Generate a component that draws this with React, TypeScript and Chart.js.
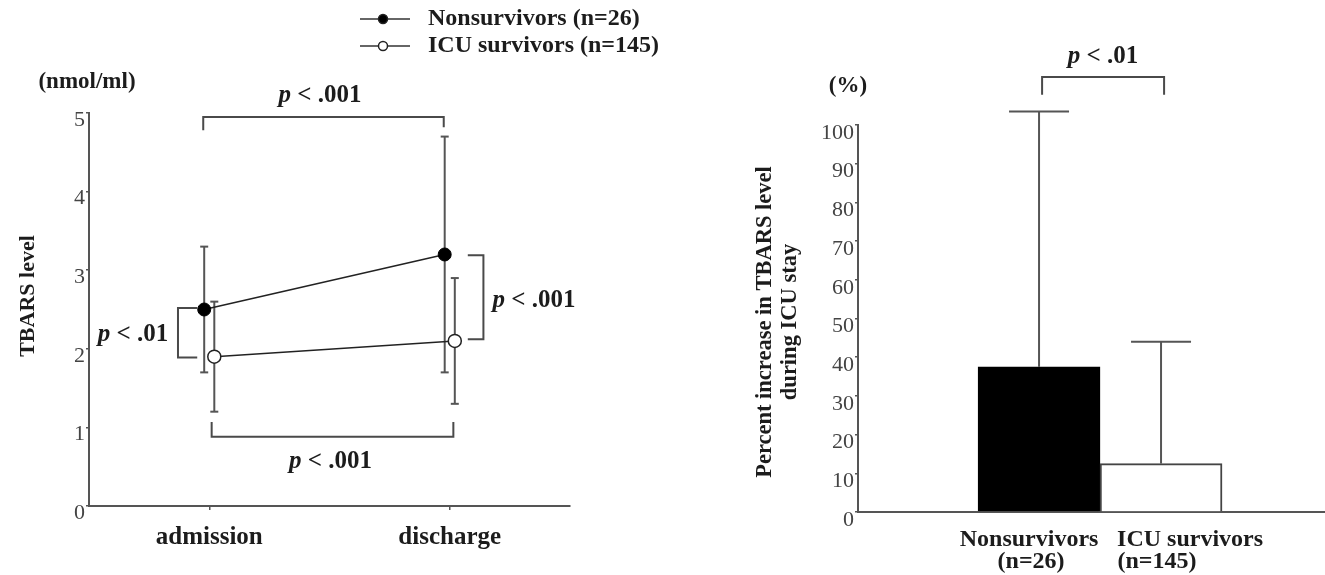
import { useEffect, useRef } from 'react';
import { Chart, registerables } from 'chart.js';

Chart.register(...registerables);

// TBARS level at admission and discharge (mean ± SD, nmol/ml)
const timepoints = ['admission', 'discharge'];
const nonsurvivorMean = [2.5, 3.2];
const nonsurvivorSD = [0.8, 1.5];
const survivorMean = [1.9, 2.1];
const survivorSD = [0.7, 0.8];
const legendLabels = ['Nonsurvivors (n=26)', 'ICU survivors (n=145)'];

// Percent increase during ICU stay (mean + SD)
const groups = ['Nonsurvivors', 'ICU survivors'];
const groupSizes = ['(n=26)', '(n=145)'];
const pctIncrease = [37.5, 12.5];
const pctIncreaseSD = [66, 31.5];

const SERIF = '"Liberation Serif", "Times New Roman", Times, serif';
const INK = '#1c1c1c';
const LINE = '#4a4a4a';
const TICK = '#444';
const LABEL_FONT = `bold 24px ${SERIF}`;
const DODGE = 0.021; // horizontal offset between the two groups at each time point

function drawP(ctx: CanvasRenderingContext2D, rest: string, cx: number, cy: number, size = 25) {
  ctx.save();
  ctx.fillStyle = INK;
  ctx.textBaseline = 'middle';
  ctx.textAlign = 'left';
  const pFont = `italic bold ${size}px ${SERIF}`;
  const restFont = `bold ${size}px ${SERIF}`;
  ctx.font = pFont;
  const wp = ctx.measureText('p').width;
  ctx.font = restFont;
  const wr = ctx.measureText(rest).width;
  const x0 = cx - (wp + wr) / 2;
  ctx.font = pFont;
  ctx.fillText('p', x0, cy);
  ctx.font = restFont;
  ctx.fillText(rest, x0 + wp, cy);
  ctx.restore();
}

function polyline(ctx: CanvasRenderingContext2D, pts: number[][], width = 2, color = LINE) {
  ctx.save();
  ctx.strokeStyle = color;
  ctx.lineWidth = width;
  ctx.lineJoin = 'miter';
  ctx.beginPath();
  pts.forEach(([x, y], i) => (i === 0 ? ctx.moveTo(x, y) : ctx.lineTo(x, y)));
  ctx.stroke();
  ctx.restore();
}

function text(ctx: CanvasRenderingContext2D, s: string, x: number, y: number, font: string, align: CanvasTextAlign = 'center', rot = 0) {
  ctx.save();
  ctx.translate(x, y);
  if (rot) ctx.rotate(rot);
  ctx.font = font;
  ctx.fillStyle = INK;
  ctx.textAlign = align;
  ctx.textBaseline = 'middle';
  ctx.fillText(s, 0, 0);
  ctx.restore();
}

const leftNotes = {
  id: 'leftNotes',
  beforeDatasetsDraw(chart: any) {
    const { ctx } = chart;
    const xs = chart.scales.x;
    const ys = chart.scales.y;
    const series = [
      { mean: nonsurvivorMean, sd: nonsurvivorSD, shift: -DODGE },
      { mean: survivorMean, sd: survivorSD, shift: DODGE },
    ];
    series.forEach(({ mean, sd, shift }) => {
      mean.forEach((m, i) => {
        const cx = xs.getPixelForValue(i + 1 + shift);
        const top = ys.getPixelForValue(m + sd[i]);
        const bot = ys.getPixelForValue(m - sd[i]);
        polyline(ctx, [[cx, top], [cx, bot]], 2, '#555');
        polyline(ctx, [[cx - 4, top], [cx + 4, top]], 2, '#555');
        polyline(ctx, [[cx - 4, bot], [cx + 4, bot]], 2, '#555');
      });
    });
  },
  afterDraw(chart: any) {
    const { ctx } = chart;
    const xs = chart.scales.x;
    const ys = chart.scales.y;
    const px = (v: number) => xs.getPixelForValue(v);
    const py = (v: number) => ys.getPixelForValue(v);

    // nonsurvivors: admission vs discharge
    polyline(ctx, [[px(0.975), py(4.78)], [px(0.975), py(4.95)], [px(1.975), py(4.95)], [px(1.975), py(4.82)]]);
    drawP(ctx, ' < .001', px(1.46), py(5.22));

    // groups at admission
    polyline(ctx, [[px(0.95), py(2.52)], [px(0.87), py(2.52)], [px(0.87), py(1.89)], [px(0.95), py(1.89)]]);
    drawP(ctx, ' < .01', px(0.683), py(2.18));

    // groups at discharge
    polyline(ctx, [[px(2.075), py(3.19)], [px(2.14), py(3.19)], [px(2.14), py(2.12)], [px(2.075), py(2.12)]]);
    drawP(ctx, ' < .001', px(2.35), py(2.62));

    // ICU survivors: admission vs discharge
    polyline(ctx, [[px(1.01), py(1.07)], [px(1.01), py(0.88)], [px(2.015), py(0.88)], [px(2.015), py(1.07)]]);
    drawP(ctx, ' < .001', px(1.504), py(0.56));

    // axis title and unit
    text(ctx, 'TBARS level', 28, 296, `bold 22px ${SERIF}`, 'center', -Math.PI / 2);
    text(ctx, '(nmol/ml)', 87, 82, `bold 23px ${SERIF}`);

    // legend
    const rows = [19, 46];
    legendLabels.forEach((label, i) => {
      const y = rows[i];
      polyline(ctx, [[360, y], [410, y]], 1.5, '#333');
      ctx.save();
      ctx.beginPath();
      ctx.arc(383, y, 4.5, 0, Math.PI * 2);
      ctx.fillStyle = i === 0 ? '#000' : '#fff';
      ctx.fill();
      ctx.lineWidth = 1.5;
      ctx.strokeStyle = '#222';
      ctx.stroke();
      ctx.restore();
      text(ctx, label, 428, y, LABEL_FONT, 'left');
    });
  },
};

const rightNotes = {
  id: 'rightNotes',
  afterDatasetsDraw(chart: any) {
    const { ctx } = chart;
    const xs = chart.scales.x;
    const ys = chart.scales.y;
    pctIncrease.forEach((v, i) => {
      const cx = xs.getPixelForValue(i + 1);
      const base = ys.getPixelForValue(v);
      const top = ys.getPixelForValue(v + pctIncreaseSD[i]);
      polyline(ctx, [[cx, base], [cx, top]], 2, '#555');
      polyline(ctx, [[cx - 30, top], [cx + 30, top]], 2, '#555');
    });
  },
  afterDraw(chart: any) {
    const { ctx } = chart;
    const xs = chart.scales.x;
    const ys = chart.scales.y;
    const px = (v: number) => xs.getPixelForValue(v);
    const py = (v: number) => ys.getPixelForValue(v);

    polyline(ctx, [[px(1.025), py(107.8)], [px(1.025), py(112.4)], [px(2.025), py(112.4)], [px(2.025), py(107.8)]]);
    drawP(ctx, ' < .01', px(1.525), py(117.6));

    // category labels under the bars
    const nameShift = [-10, 29];
    const sizeShift = [-8, -4];
    groups.forEach((g, i) => {
      const cx = px(i + 1);
      text(ctx, g, cx + nameShift[i], 540, LABEL_FONT);
      text(ctx, groupSizes[i], cx + sizeShift[i], 562, LABEL_FONT);
    });

    // axis title and unit
    text(ctx, 'Percent increase in TBARS level', 765 - 660, 322, `bold 22.5px ${SERIF}`, 'center', -Math.PI / 2);
    text(ctx, 'during ICU stay', 790 - 660, 322, `bold 22.5px ${SERIF}`, 'center', -Math.PI / 2);
    text(ctx, '(%)', 188, 86, `bold 23px ${SERIF}`);
  },
};

export default function App() {
  const leftRef = useRef<HTMLCanvasElement>(null);
  const rightRef = useRef<HTMLCanvasElement>(null);

  useEffect(() => {
    const left = new Chart(leftRef.current!, {
      type: 'line',
      data: {
        datasets: [
          {
            label: legendLabels[0],
            data: nonsurvivorMean.map((v, i) => ({ x: i + 1 - DODGE, y: v })),
            borderColor: '#222',
            borderWidth: 1.5,
            pointRadius: 6.5,
            pointBackgroundColor: '#000',
            pointBorderColor: '#000',
            pointBorderWidth: 1,
          },
          {
            label: legendLabels[1],
            data: survivorMean.map((v, i) => ({ x: i + 1 + DODGE, y: v })),
            borderColor: '#222',
            borderWidth: 1.5,
            pointRadius: 6.5,
            pointBackgroundColor: '#fff',
            pointBorderColor: '#222',
            pointBorderWidth: 1.5,
          },
        ],
      },
      options: {
        responsive: false,
        animation: false,
        layout: { padding: { left: 0, top: 113, right: 90, bottom: 9 } },
        plugins: { legend: { display: false }, tooltip: { enabled: false } },
        scales: {
          x: {
            type: 'linear',
            min: 0.5,
            max: 2.5,
            offset: false,
            afterFit: (s: any) => { s.height = 60; },
            afterBuildTicks: (s: any) => { s.ticks = timepoints.map((_, i) => ({ value: i + 1 })); },
            ticks: {
              callback: (v: any) => timepoints[Number(v) - 1] ?? '',
              font: { family: SERIF, size: 25, weight: 'bold' },
              color: INK,
              padding: 13,
              maxRotation: 0,
            },
            grid: { display: true, drawOnChartArea: false, drawTicks: true, tickLength: 4, color: '#555', lineWidth: 1.5 },
            border: { display: true, color: '#555', width: 2 },
          },
          y: {
            min: 0,
            max: 5,
            afterFit: (s: any) => { s.width = 89; },
            ticks: {
              stepSize: 1,
              font: { family: SERIF, size: 22 },
              color: TICK,
              padding: 1,
              labelOffset: 7,
            },
            grid: { display: true, drawOnChartArea: false, drawTicks: true, tickLength: 3, color: '#555', lineWidth: 1.5 },
            border: { display: true, color: '#555', width: 2 },
          },
        },
      },
      plugins: [leftNotes],
    } as any);

    const right = new Chart(rightRef.current!, {
      type: 'bar',
      data: {
        datasets: [
          {
            label: 'Percent increase',
            data: pctIncrease.map((v, i) => ({ x: i + 1, y: v })),
            backgroundColor: ['#000', '#fff'],
            borderColor: ['#000', '#444'],
            borderWidth: 2,
            barThickness: 122,
          },
        ],
      },
      options: {
        responsive: false,
        animation: false,
        layout: { padding: { left: 0, top: 125, right: 0, bottom: 0 } },
        plugins: { legend: { display: false }, tooltip: { enabled: false } },
        scales: {
          x: {
            type: 'linear',
            min: -0.484,
            max: 3.344,
            offset: false,
            afterFit: (s: any) => { s.height = 63; },
            ticks: { display: false },
            grid: { display: false },
            border: { display: true, color: '#555', width: 2 },
          },
          y: {
            min: 0,
            max: 100,
            afterFit: (s: any) => { s.width = 198; },
            ticks: {
              stepSize: 10,
              font: { family: SERIF, size: 22 },
              color: TICK,
              padding: 1,
              labelOffset: 8,
            },
            grid: { display: true, drawOnChartArea: false, drawTicks: true, tickLength: 3, color: '#555', lineWidth: 1.5 },
            border: { display: true, color: '#555', width: 2 },
          },
        },
      },
      plugins: [rightNotes],
    } as any);

    return () => {
      left.destroy();
      right.destroy();
    };
  }, []);

  return (
    <div style={{ position: 'absolute', left: 0, top: 0, width: 1325, height: 575, background: '#fff' }}>
      <canvas ref={leftRef} width={660} height={575} style={{ position: 'absolute', left: 0, top: 0, width: 660, height: 575 }} />
      <canvas ref={rightRef} width={665} height={575} style={{ position: 'absolute', left: 660, top: 0, width: 665, height: 575 }} />
    </div>
  );
}
